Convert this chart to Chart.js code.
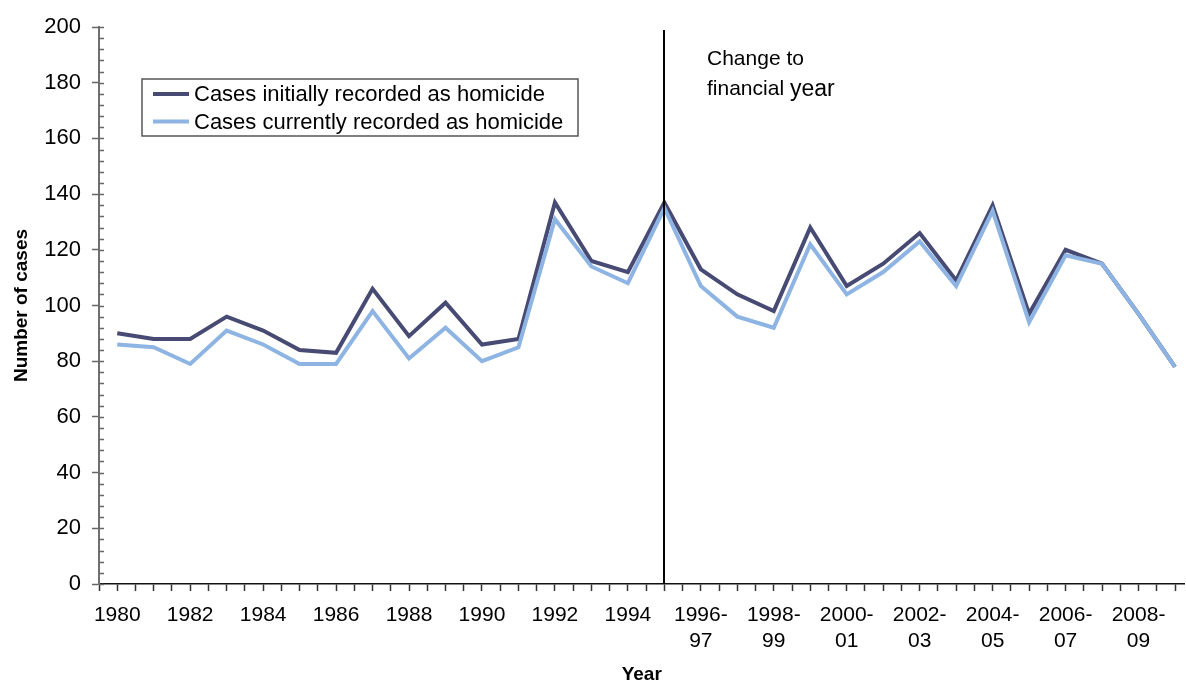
<!DOCTYPE html>
<html>
<head>
<meta charset="utf-8">
<script src="https://cdn.jsdelivr.net/npm/chart.js@4.4.0/dist/chart.umd.min.js"></script>
<style>
    body { margin: 0; background: #fff; overflow: hidden; }
    #box { width: 1186px; height: 684px; }
</style>
</head>
<body>
<div id="box"><canvas id="homicideChart" width="1186" height="684"></canvas></div>
<script>
// years: calendar up to 1994, financial years from 1995-96
const years = ['1980', '1981', '1982', '1983', '1984', '1985', '1986', '1987', '1988', '1989',
    '1990', '1991', '1992', '1993', '1994', '1995-96', '1996-97', '1997-98', '1998-99', '1999-00',
    '2000-01', '2001-02', '2002-03', '2003-04', '2004-05', '2005-06', '2006-07', '2007-08', '2008-09', '2009-10'];
const initiallyRecorded = [90, 88, 88, 96, 91, 84, 83, 106, 89, 101,
    86, 88, 137, 116, 112, 137, 113, 104, 98, 128,
    107, 115, 126, 109, 136, 97, 120, 115, 97, 78];
const currentlyRecorded = [86, 85, 79, 91, 86, 79, 79, 98, 81, 92,
    80, 85, 131, 114, 108, 135, 107, 96, 92, 122,
    104, 112, 123, 107, 134, 94, 118, 115, 97, 78];
const changeIndex = years.indexOf('1995-96');

const FONT = '"Liberation Sans", Arial, sans-serif';
Chart.defaults.font.family = FONT;
Chart.defaults.color = '#000';

// inward minor/major ticks on the y axis
const yInnerTicks = {
    id: 'yInnerTicks',
    afterDraw(chart) {
        const ctx = chart.ctx;
        const y = chart.scales.y;
        const left = chart.chartArea.left;
        ctx.save();
        ctx.strokeStyle = '#666';
        ctx.lineWidth = 1.5;
        y.ticks.forEach((t) => {
            const py = Math.round(y.getPixelForValue(t.value)) + 0.5;
            ctx.beginPath();
            ctx.moveTo(left, py);
            ctx.lineTo(left + 5, py);
            ctx.stroke();
        });
        ctx.restore();
    }
};

// vertical line + note where the series changes to financial years
const changeLine = {
    id: 'changeLine',
    afterDatasetsDraw(chart) {
        const ctx = chart.ctx;
        const x = Math.round(chart.scales.x.getPixelForValue(changeIndex));
        const area = chart.chartArea;
        ctx.save();
        ctx.strokeStyle = '#000';
        ctx.lineWidth = 2;
        ctx.beginPath();
        ctx.moveTo(x, area.top + 3);
        ctx.lineTo(x, area.bottom);
        ctx.stroke();
        ctx.fillStyle = '#000';
        ctx.textBaseline = 'middle';
        ctx.font = '21px ' + FONT;
        ctx.fillText('Change to', x + 43, chart.scales.y.getPixelForValue(188.5));
        const y2 = chart.scales.y.getPixelForValue(177.5);
        ctx.fillText('financial ', x + 43, y2);
        const w = ctx.measureText('financial ').width;
        ctx.font = '23px ' + FONT;
        ctx.fillText('year', x + 43 + w, y2);
        ctx.restore();
    }
};

const legendBox = {
    id: 'legendBox',
    afterDraw(chart) {
        const ctx = chart.ctx;
        ctx.save();
        ctx.fillStyle = '#fff';
        ctx.fillRect(142, 79, 436, 57);
        ctx.strokeStyle = '#555';
        ctx.lineWidth = 1.5;
        ctx.strokeRect(142, 79, 436, 57);
        ctx.font = '22px ' + FONT;
        ctx.textBaseline = 'middle';
        chart.data.datasets.forEach((ds, i) => {
            const ly = 94 + i * 27.5;
            ctx.strokeStyle = ds.borderColor;
            ctx.lineWidth = 4;
            ctx.beginPath();
            ctx.moveTo(153, ly);
            ctx.lineTo(189, ly);
            ctx.stroke();
            ctx.fillStyle = '#000';
            ctx.fillText(ds.label, 194, ly + 1);
        });
        ctx.restore();
    }
};

const ctx = document.getElementById('homicideChart').getContext('2d');
const homicideChart = new Chart(ctx, {
    type: 'line',
    data: {
        datasets: [{
            label: 'Cases initially recorded as homicide',
            data: initiallyRecorded.map((v, i) => ({ x: i, y: v })),
            borderColor: '#474a72',
            borderWidth: 4,
            pointRadius: 0,
            tension: 0,
            order: 1
        }, {
            label: 'Cases currently recorded as homicide',
            data: currentlyRecorded.map((v, i) => ({ x: i, y: v })),
            borderColor: '#8db4e2',
            borderWidth: 4,
            pointRadius: 0,
            tension: 0,
            order: 0
        }]
    },
    options: {
        responsive: false,
        animation: false,
        devicePixelRatio: 1,
        layout: { padding: { top: 27, left: 0, right: 0, bottom: 0 } },
        plugins: {
            legend: { display: false },
            tooltip: { enabled: false }
        },
        scales: {
            x: {
                type: 'linear',
                min: -0.5,
                max: 29.26,
                afterBuildTicks: (scale) => {
                    const t = [];
                    for (let v = -0.5; v <= 29; v += 0.5) t.push({ value: v });
                    scale.ticks = t;
                },
                afterFit: (scale) => { scale.height = 100; },
                grid: { drawOnChartArea: false, tickLength: 7, tickColor: '#333', tickWidth: 1.5 },
                border: { color: '#111', width: 1.5 },
                ticks: {
                    autoSkip: false,
                    maxRotation: 0,
                    minRotation: 0,
                    padding: 11,
                    font: { size: 21, lineHeight: 1.25 },
                    callback: function (value) {
                        if (!Number.isInteger(value) || value % 2 !== 0) return '';
                        const lab = years[value];
                        if (!lab) return '';
                        if (lab.indexOf('-') > 0) {
                            const p = lab.split('-');
                            return [p[0] + '-', p[1]];
                        }
                        return lab;
                    }
                },
                title: {
                    display: true,
                    text: 'Year',
                    font: { size: 19, weight: 'bold', lineHeight: 1 },
                    padding: { top: 0, bottom: 0 }
                }
            },
            y: {
                min: 0,
                max: 200,
                afterFit: (scale) => { scale.width = 99; },
                grid: {
                    drawOnChartArea: false,
                    tickLength: 7,
                    tickWidth: 1.5,
                    tickColor: (c) => (c.tick && c.tick.value % 20 === 0 ? '#666' : 'rgba(0,0,0,0)')
                },
                border: { color: '#707070', width: 2 },
                ticks: {
                    stepSize: 4,
                    autoSkip: false,
                    padding: 11,
                    font: { size: 22 },
                    callback: (v) => (v % 20 === 0 ? v : '')
                },
                title: {
                    display: true,
                    text: 'Number of cases',
                    font: { size: 19, weight: 'bold', lineHeight: 1.2 },
                    padding: { top: 10, bottom: 0 }
                }
            }
        }
    },
    plugins: [yInnerTicks, changeLine, legendBox]
});
</script>
</body>
</html>
